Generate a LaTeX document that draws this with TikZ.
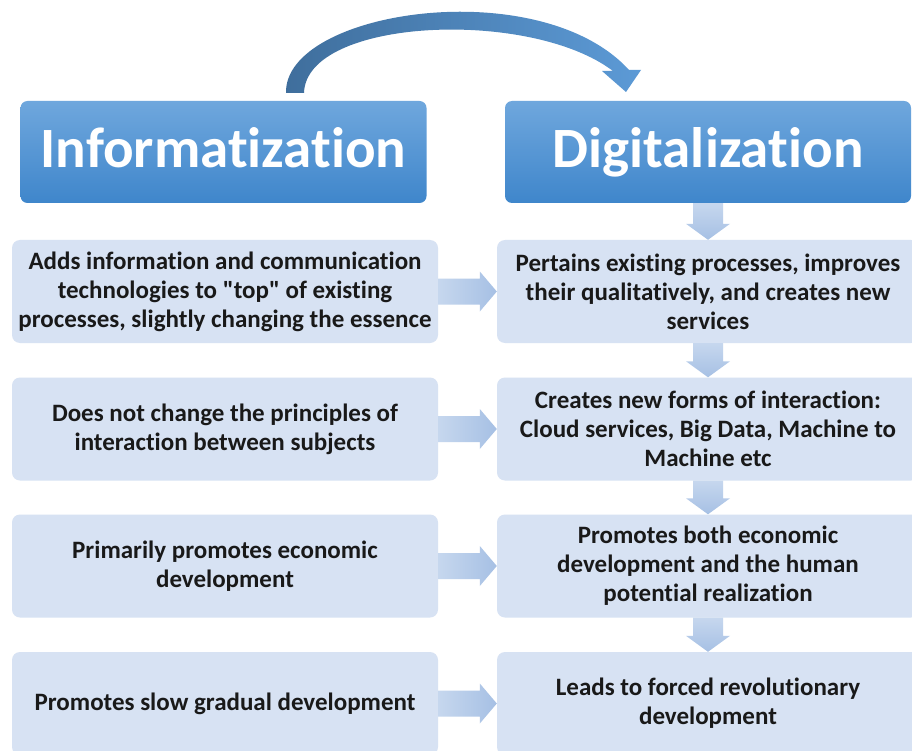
\documentclass[tikz,border=0pt]{standalone}
\usepackage{fontspec}
\setmainfont[Ligatures={NoCommon,TeXOff}]{Carlito}
\usetikzlibrary{calc}
\definecolor{boxfill}{HTML}{D7E2F3}
\definecolor{arrA}{HTML}{C6D7EE}
\definecolor{arrB}{HTML}{A6C0E4}
\definecolor{htop}{HTML}{6FA7DD}
\definecolor{hbot}{HTML}{3F86CB}
\definecolor{cdark}{HTML}{3F6E9C}
\definecolor{clight}{HTML}{5C9AD6}
\newcommand\harr[2]{%
  \path (#1.east) coordinate (ha) (#2.west) coordinate (hb);
  \path[left color=arrA, right color=arrB]
    ($(ha)+(0,-13)$) -- ($(hb)+(-17,-13)$) -- ($(hb)+(-17,-20)$) -- (hb)
    -- ($(hb)+(-17,20)$) -- ($(hb)+(-17,13)$) -- ($(ha)+(0,13)$) -- cycle;}
\newcommand\varr[2]{%
  \path (#1.south) coordinate (va) (#2.north) coordinate (vb);
  \path[top color=arrA, bottom color=arrB]
    ($(va)+(-15,0)$) -- ($(vb)+(-15,-16)$) -- ($(vb)+(-22,-16)$) -- (vb)
    -- ($(vb)+(22,-16)$) -- ($(vb)+(15,-16)$) -- ($(va)+(15,0)$) -- cycle;}
\begin{document}
\begin{tikzpicture}[x=1pt,y=-1pt,
  header/.style={rounded corners=7pt, top color=htop, bottom color=hbot,
    text=white, font=\fontsize{57}{60}\selectfont\bfseries,
    minimum width=406pt, minimum height=102pt, inner sep=0pt,
    text height=42pt, text depth=10pt},
  cbox/.style={rounded corners=8pt, fill=boxfill, text=black!90,
    font=\fontsize{25}{29}\selectfont\bfseries, align=center,
    minimum height=103pt, inner sep=0pt},
  lbox/.style={cbox, minimum width=426pt},
  rbox/.style={cbox, minimum width=422pt},
]
\useasboundingbox (0,0) rectangle (912,751);
\clip (0,0) rectangle (912,751);
\fill[white] (0,0) rectangle (912,751);

% curved arrow
\path[left color=cdark, right color=clight]
  (304,93) -- (286,93) .. controls (284,10) and (540,-28) .. (629,70)
  -- (641,70) -- (626,92) -- (602,71) -- (613,71)
  .. controls (530,8) and (306,18) .. (304,93) -- cycle;

% headers
\node[header] (h1) at (223.5,152) {Informatization};
\node[header] (h2) at (708,152) {Digitalization};

% left column
\node[lbox] (l1) at (225,291.5) {Adds information and communication\\technologies to "top" of existing\\processes, slightly changing the essence};
\node[lbox] (l2) at (225,429) {Does not change the principles of\\interaction between subjects};
\node[lbox] (l3) at (225,566) {Primarily promotes economic\\development};
\node[lbox] (l4) at (225,703.5) {Promotes slow gradual development};

% right column
\node[rbox] (r1) at (708,291.5) {Pertains existing processes, improves\\their qualitatively, and creates new\\services};
\node[rbox] (r2) at (708,429) {Creates new forms of interaction:\\Cloud services, Big Data, Machine to\\Machine etc};
\node[rbox] (r3) at (708,566) {Promotes both economic\\development and the human\\potential realization};
\node[rbox] (r4) at (708,703.5) {Leads to forced revolutionary\\development};

% arrows
\harr{l1}{r1}
\harr{l2}{r2}
\harr{l3}{r3}
\harr{l4}{r4}
\varr{h2}{r1}
\varr{r1}{r2}
\varr{r2}{r3}
\varr{r3}{r4}
\end{tikzpicture}
\end{document}
